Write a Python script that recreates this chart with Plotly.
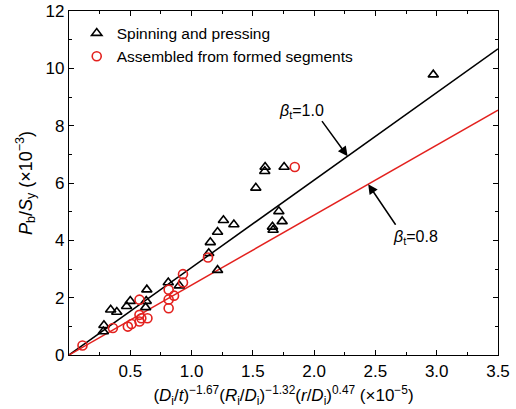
import plotly.graph_objects as go

# Spinning and pressing (triangles)
spin_x = [0.285, 0.28, 0.34, 0.39, 0.47, 0.50, 0.635, 0.63, 0.625, 0.81, 0.90,
          1.14, 1.153, 1.212, 1.26, 1.345, 1.212, 1.524, 1.60, 1.597, 1.755,
          1.712, 1.739, 1.66, 1.665, 2.972]
spin_y = [1.04, 0.82, 1.58, 1.50, 1.70, 1.88, 2.28, 1.88, 1.66, 2.53, 2.42,
          3.55, 3.93, 4.29, 4.70, 4.55, 2.96, 5.83, 6.56, 6.41, 6.56,
          5.01, 4.66, 4.47, 4.36, 9.78]

# Assembled from formed segments (circles)
asm_x = [0.11, 0.358, 0.48, 0.51, 0.575, 0.575, 0.575, 0.59, 0.64, 0.813, 0.813,
         0.813, 0.857, 0.93, 0.93, 1.134, 1.842]
asm_y = [0.33, 0.94, 0.99, 1.08, 1.93, 1.40, 1.17, 1.28, 1.28, 2.28, 1.94,
         1.63, 2.07, 2.53, 2.82, 3.40, 6.56]

# Design lines
line_x = [0, 3.5]
line_y_10 = [0, 10.68]
line_y_08 = [0, 8.54]

x_ticks = [0.5, 1.0, 1.5, 2.0, 2.5, 3.0, 3.5]
x_minor = [0.25, 0.75, 1.25, 1.75, 2.25, 2.75, 3.25]
y_ticks = [0, 2, 4, 6, 8, 10, 12]
y_minor = [1, 3, 5, 7, 9, 11]

RED = "#e3211e"
FONT = "Liberation Sans, Arial, sans-serif"

fig = go.Figure()
fig.add_trace(go.Scatter(x=line_x, y=line_y_10, mode="lines",
                         line=dict(color="black", width=1.5), showlegend=False))
fig.add_trace(go.Scatter(x=line_x, y=line_y_08, mode="lines",
                         line=dict(color=RED, width=1.5), showlegend=False))
fig.add_trace(go.Scatter(x=spin_x, y=spin_y, mode="markers", name="Spinning and pressing",
                         marker=dict(symbol="triangle-up-open", size=9, color="black",
                                     line=dict(width=1.6, color="black"))))
fig.add_trace(go.Scatter(x=asm_x, y=asm_y, mode="markers", name="Assembled from formed segments",
                         marker=dict(symbol="circle-open", size=9, color=RED,
                                     line=dict(width=1.6, color=RED))))

axis_common = dict(showline=True, linecolor="black", linewidth=1.3, mirror="ticks",
                   ticks="inside", ticklen=5, tickwidth=1.2, tickcolor="black",
                   showgrid=False, zeroline=False, automargin=False,
                   tickfont=dict(family=FONT, size=17, color="black"))

fig.update_xaxes(range=[0, 3.5], tickmode="array", tickvals=x_ticks,
                 ticktext=[f"{v:.1f}" for v in x_ticks],
                 minor=dict(tickmode="array", tickvals=x_minor, ticks="inside", ticklen=3,
                            tickcolor="black", tickwidth=1.2),
                 title=dict(text="(<i>D</i><sub>i</sub>/<i>t</i>)<sup>\u22121.67</sup>(<i>R</i><sub>i</sub>/<i>D</i><sub>i</sub>)<sup>\u22121.32</sup>(<i>r</i>/<i>D</i><sub>i</sub>)<sup>0.47</sup> (\u00d710<sup>\u22125</sup>)",
                            font=dict(family=FONT, size=17, color="black"), standoff=9),
                 **axis_common)
fig.update_yaxes(range=[0, 12], tickmode="array", tickvals=y_ticks,
                 ticktext=[str(v) for v in y_ticks],
                 minor=dict(tickmode="array", tickvals=y_minor, ticks="inside", ticklen=3,
                            tickcolor="black", tickwidth=1.2),
                 title=dict(text="<i>P</i><sub>b</sub>/<i>S</i><sub>y</sub> (\u00d710<sup>\u22123</sup>)",
                            font=dict(family=FONT, size=18, color="black"), standoff=8),
                 **axis_common)

# beta annotations
fig.add_annotation(x=2.273, y=6.93, ax=2.055, ay=8.21, axref="x", ayref="y",
                   text="", showarrow=True, arrowhead=2, arrowsize=1.3, arrowwidth=1.5,
                   arrowcolor="black")
fig.add_annotation(x=1.893, y=8.49, text="<i>\u03b2</i><sub>t</sub>=1.0", showarrow=False,
                   font=dict(family=FONT, size=16, color="black"))
fig.add_annotation(x=2.441, y=5.96, ax=2.673, ay=4.49, axref="x", ayref="y",
                   text="", showarrow=True, arrowhead=2, arrowsize=1.3, arrowwidth=1.5,
                   arrowcolor="black")
fig.add_annotation(x=2.828, y=4.10, text="<i>\u03b2</i><sub>t</sub>=0.8", showarrow=False,
                   font=dict(family=FONT, size=16, color="black"))

fig.update_layout(
    width=516, height=409,
    margin=dict(l=69, r=18, t=11, b=54),
    paper_bgcolor="white", plot_bgcolor="white",
    font=dict(family=FONT, color="black"),
    legend=dict(x=0.018, y=0.984, xanchor="left", yanchor="top",
                bgcolor="rgba(0,0,0,0)", borderwidth=0,
                font=dict(family=FONT, size=15.5, color="black"),
                tracegroupgap=0, itemwidth=30),
)

fig.write_html("out.html")
